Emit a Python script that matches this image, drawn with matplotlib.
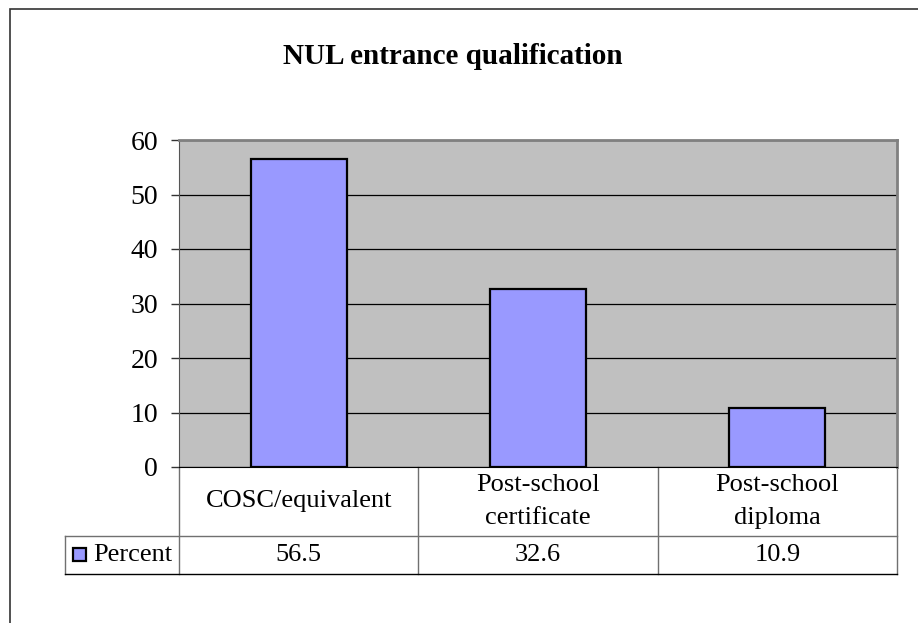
import numpy as np
import matplotlib
matplotlib.use('Agg')
import matplotlib.pyplot as plt
import matplotlib.transforms as mtransforms
from matplotlib.patches import Rectangle

plt.rcParams['font.family'] = ['Liberation Serif', 'DejaVu Serif']

# Data
categories = ['COSC/equivalent', 'Post-school\ncertificate', 'Post-school\ndiploma']
values = [56.5, 32.6, 10.9]
series_name = 'Percent'
yticks = [0, 10, 20, 30, 40, 50, 60]

bar_color = '#9999FF'

fig = plt.figure(figsize=(9.18, 6.23), dpi=100)
ax = fig.add_axes([179 / 918, 1 - 467 / 623, 718 / 918, 327 / 623])

# Bars
x = np.arange(len(values))
ax.bar(x, values, width=0.4, color=bar_color, edgecolor='black', linewidth=1.6, zorder=3)
ax.set_xlim(-0.5, len(values) - 0.5)
ax.set_ylim(0, 60)
ax.set_yticks(yticks)
ax.set_xticks([])
ax.set_facecolor('#C0C0C0')
ax.yaxis.grid(True, color='black', linewidth=0.9, zorder=1)
ax.set_axisbelow(True)
ax.tick_params(axis='y', length=6, width=1, color='#333333', labelsize=20, pad=9)

for side in ['top', 'right']:
    ax.spines[side].set_color('#808080')
    ax.spines[side].set_linewidth(2)
ax.spines['left'].set_color('#555555')
ax.spines['bottom'].set_color('black')
ax.spines['bottom'].set_zorder(5)

# Data table under the chart: x in data units, y in axes fraction
tr = mtransforms.blended_transform_factory(ax.transData, ax.transAxes)
row_mid = -69 / 327      # header / values boundary
row_bot = -107 / 327     # bottom of table
x_lo, x_hi = -0.5, len(values) - 0.5
lab_lo = x_lo - 114 / (718 / len(values))   # left edge of the row-label cell

line_kw = dict(transform=tr, clip_on=False, linewidth=1)
# vertical dividers
for xb in np.arange(len(values) + 1) - 0.5:
    ax.plot([xb, xb], [row_bot, 0], color='#707070', **line_kw)
ax.plot([lab_lo, lab_lo], [row_bot, row_mid], color='#707070', **line_kw)
# horizontal lines
ax.plot([lab_lo, x_hi], [row_mid, row_mid], color='#707070', **line_kw)
ax.plot([lab_lo, x_hi], [row_bot, row_bot], color='black', **line_kw)

for i, (cat, v) in enumerate(zip(categories, values)):
    ax.text(i, row_mid / 2, cat, transform=tr, ha='center', va='center',
            fontsize=19, linespacing=1.65)
    ax.text(i, (row_mid + row_bot) / 2, f'{v:.1f}', transform=tr, ha='center',
            va='center', fontsize=19)

ax.text(x_lo - 7 / 239.33, (row_mid + row_bot) / 2, series_name, transform=tr,
        ha='right', va='center', fontsize=19)

# legend key in the row label cell
ax.add_patch(Rectangle((lab_lo + 8 / 239.33, -0.2875), 13 / 239.33, 0.0398, transform=tr,
                       facecolor=bar_color, edgecolor='black', linewidth=1.6, clip_on=False))

# Title
fig.text(453 / 918, 1 - 57 / 623, 'NUL entrance qualification', ha='center', va='center',
         fontsize=21, fontweight='bold')

# chart outer border
fig.add_artist(Rectangle((10 / 918, 1 - 9 / 623 - 2), 2, 2, transform=fig.transFigure,
                         fill=False, edgecolor='#333333', linewidth=1.2))

fig.savefig('out.png', dpi=100)
